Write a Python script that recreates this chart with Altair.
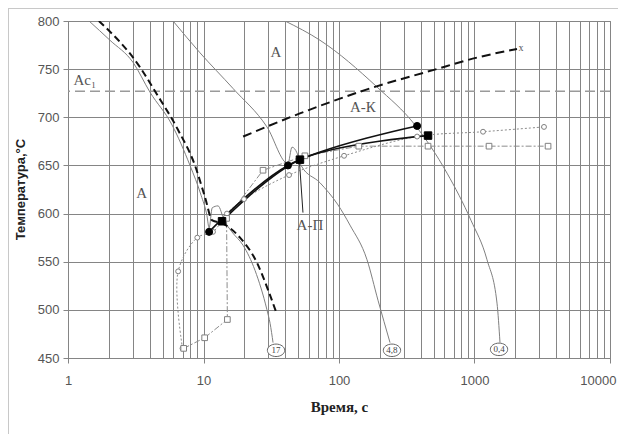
import altair as alt
import pandas as pd

# ---------------- data ----------------
# cooling curve "17"
c17_t = [1.43, 2.04, 3.02, 4.03, 5.86, 7.95, 9.6, 10.6, 11.0, 11.6, 12.8, 14.2, 16.2, 19.6, 24.0, 29.4, 31.0, 32.6]
c17_T = [800, 780, 757, 726, 692, 650, 619, 598, 585, 606, 608, 593, 581, 567, 541, 500, 486, 466]
# cooling curve "4,8"
c48_t = [5.96, 9.42, 16.5, 29.4, 42.0, 45.0, 49.0, 52.5, 72.4, 98.3, 120.5, 161, 194, 238]
c48_T = [800, 767, 730, 690, 652, 669, 663, 650, 632, 609, 588, 552, 510, 466]
# cooling curve "0,4"
c04_t = [40, 72.4, 190.6, 364, 627, 942, 1237, 1466, 1542]
c04_T = [800, 780, 731.5, 692, 642, 593, 552, 507, 466]
# thick dashed start-of-transformation curve
ds_t = [1.69, 3.40, 4.39, 6.48, 8.65, 10.26, 11.6, 13.7, 18.6, 24.8, 29.9, 34.9]
ds_T = [800, 752, 727, 687, 650, 617, 593, 590, 575, 549, 521, 495]
# upper dashed A / A-K boundary
ak_t = [19.6, 51.5, 161, 494, 1043, 2059]
ak_T = [680, 704, 729, 749, 762, 771]
# black circles / black squares
bc_t = [11.0, 42.0, 377]
bc_T = [581, 650, 691]
bs_t = [13.7, 51.5, 454]
bs_T = [592, 656, 681]
# open circles (dotted) / open squares (dash-dot)
oc_t = [7.0, 6.5, 9.0, 11.75, 14.9, 19.9, 42.8, 109, 377, 1156, 3258]
oc_T = [460, 540, 575, 581, 600, 615, 640, 660, 680, 685, 690]
os_t = [7.14, 10.2, 15.0, 14.8, 27.5, 56, 140, 454, 1280, 3490]
os_T = [460, 471, 490, 595, 645, 660, 670, 670, 670, 670]
# leader line for "А-П"
ld_t = [54.2, 51.0]
ld_T = [601, 655]
# Ac1 temperature
ac1_T = [727]
# text labels
lab_text = ["А", "А", "А-К", "А-П", "Ac₁"]
lab_t = [3.5, 34.3, 150, 61, 1.33]
lab_T = [621, 768, 711, 588, 739]
# circled rate labels
rate_text = ["17", "4,8", "0,4"]
rate_t = [34.3, 246, 1517]
rate_T = [458, 458, 459]
# end mark of the A-K line
xm_text = ["x"]
xm_t = [2200]
xm_T = [772]

y_ticks = [450, 500, 550, 600, 650, 700, 750, 800]
x_grid = [m * 10 ** e for e in range(4) for m in range(1, 10)] + [10000]
x_major = [1, 10, 100, 1000, 10000]


def frame(ts, Ts):
    return pd.DataFrame({"t": ts, "T": Ts, "i": list(range(len(ts)))})


GRID = "#858585"
major_test = "indexof([1,10,100,1000,10000], datum.value) >= 0"

X = alt.X(
    "t:Q",
    scale=alt.Scale(type="log", domain=[1, 10000], nice=False),
    axis=alt.Axis(
        values=x_grid,
        grid=True,
        gridColor=GRID,
        gridWidth=1,
        domainColor=GRID,
        labelExpr=major_test + " ? format(datum.value, 'd') : ''",
        labelOverlap=False,
        labelFlush=False,
        labelBound=False,
        labelAlign={"condition": {"test": "datum.value === 10000", "value": "right"}, "value": "center"},
        labelOffset={"condition": {"test": "datum.value === 10000", "value": 6}, "value": 0},
        tickColor={"condition": {"test": major_test, "value": GRID}, "value": "transparent"},
        tickSize=5,
        labelPadding=11,
        labelFont="Liberation Sans",
        labelFontSize=13,
        labelColor="#555555",
        title="Время, с",
        titleFont="Liberation Serif",
        titleFontSize=15,
        titleFontWeight="bold",
        titleColor="#222222",
        titleX=271,
        titleY=53,
        titleBaseline="alphabetic",
        titleAlign="center",
    ),
)
Y = alt.Y(
    "T:Q",
    scale=alt.Scale(domain=[450, 800], nice=False, zero=False),
    axis=alt.Axis(
        values=y_ticks,
        grid=True,
        gridColor=GRID,
        gridWidth=1,
        domainColor=GRID,
        tickColor=GRID,
        tickSize=5,
        labelPadding=4,
        labelFont="Liberation Sans",
        labelFontSize=13,
        labelColor="#555555",
        title="Температура,°С",
        titleFont="Liberation Sans",
        titleFontSize=13,
        titleFontWeight="bold",
        titleColor="#222222",
        titleAngle=270,
        titleX=-43.5,
        titleY=168,
        titleBaseline="alphabetic",
        titleAlign="center",
    ),
)


def line(ts, Ts, color, width, dash=None, interp="monotone"):
    kw = dict(color=color, strokeWidth=width, interpolate=interp, clip=True)
    if dash:
        kw["strokeDash"] = dash
    return alt.Chart(frame(ts, Ts)).mark_line(**kw).encode(x=X, y=Y, order="i:Q")


def points(ts, Ts, shape, fill, stroke, size):
    return alt.Chart(frame(ts, Ts)).mark_point(
        shape=shape, filled=True, fill=fill, stroke=stroke, strokeWidth=1, size=size, opacity=1
    ).encode(x=X, y=Y)


layers = []
# Ac1 line
layers.append(
    alt.Chart(pd.DataFrame({"T": ac1_T}))
    .mark_rule(color="#9a9a9a", strokeWidth=1.5, strokeDash=[10, 5])
    .encode(y=Y)
)
# cooling curves
layers.append(line(c17_t, c17_T, "#808080", 1))
layers.append(line(c48_t, c48_T, "#808080", 1))
layers.append(line(c04_t, c04_T, "#808080", 1))
# open series
layers.append(line(oc_t, oc_T, "#8c8c8c", 1, [2, 2], "catmull-rom"))
layers.append(line(os_t, os_T, "#8c8c8c", 1, [6, 2, 2, 2], "linear"))
# dashed boundaries
layers.append(line(ds_t, ds_T, "#111111", 2, [7, 4], "monotone"))
layers.append(line(ak_t, ak_T, "#111111", 2, [9, 5], "monotone"))
# black series
layers.append(line(bc_t, bc_T, "#111111", 1.6, None, "catmull-rom"))
layers.append(line(bs_t, bs_T, "#111111", 1.6, None, "catmull-rom"))
layers.append(line(ld_t, ld_T, "#222222", 1, None, "linear"))
# markers
layers.append(points(oc_t, oc_T, "circle", "white", "#808080", 24))
layers.append(points(os_t, os_T, "square", "white", "#808080", 32))
layers.append(points(bc_t, bc_T, "circle", "#000000", "#000000", 50))
layers.append(points(bs_t, bs_T, "square", "#000000", "#000000", 56))
# text labels
layers.append(
    alt.Chart(pd.DataFrame({"t": lab_t, "T": lab_T, "s": lab_text}))
    .mark_text(font="Liberation Serif", fontSize=15, color="#555555", align="center", baseline="middle")
    .encode(x=X, y=Y, text="s:N")
)
# circled rate labels
ell = "M-1,0A1,0.72 0 1,1 1,0A1,0.72 0 1,1 -1,0Z"
rate_df = pd.DataFrame({"t": rate_t, "T": rate_T, "s": rate_text})
layers.append(
    alt.Chart(rate_df)
    .mark_point(shape=ell, filled=True, fill="white", stroke="#666666", strokeWidth=1, size=300, opacity=1)
    .encode(x=X, y=Y)
)
layers.append(
    alt.Chart(rate_df)
    .mark_text(font="Liberation Serif", fontSize=9, color="#444444", align="center", baseline="middle")
    .encode(x=X, y=Y, text="s:N")
)
layers.append(
    alt.Chart(pd.DataFrame({"t": xm_t, "T": xm_T, "s": xm_text}))
    .mark_text(font="Liberation Serif", fontSize=10, color="#555555", align="center", baseline="middle")
    .encode(x=X, y=Y, text="s:N")
)
# faint outer frame (top and left)
one = pd.DataFrame({"a": [0]})
layers.append(
    alt.Chart(one).mark_rule(color="#c8c8c8", strokeWidth=1)
    .encode(x=alt.value(-60), x2=alt.value(550), y=alt.value(-12.5))
)
layers.append(
    alt.Chart(one).mark_rule(color="#c8c8c8", strokeWidth=1)
    .encode(x=alt.value(-59.5), y=alt.value(-13), y2=alt.value(413))
)

chart = (
    alt.layer(*layers)
    .properties(
        width=542,
        height=337,
        autosize=alt.AutoSizeParams(type="none"),
        padding={"left": 60, "top": 13, "right": 8, "bottom": 76},
        background="white",
    )
    .configure_view(stroke=GRID, strokeWidth=1)
)

chart.save("out.html", embed_options={"renderer": "svg", "actions": False})
